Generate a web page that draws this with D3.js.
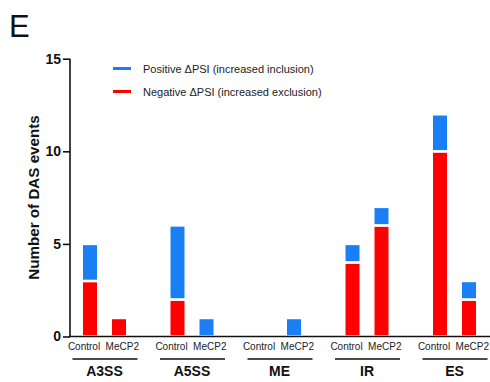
<!DOCTYPE html>
<html>
<head>
<meta charset="utf-8">
<script src="https://cdn.jsdelivr.net/npm/d3@7"></script>
<style>
  html, body { margin: 0; padding: 0; background: #fff; }
  svg { display: block; font-family: "Liberation Sans", Arial, sans-serif; }
</style>
</head>
<body>
<svg id="chart" width="490" height="382"></svg>
<script>
const groups = ["A3SS", "A5SS", "ME", "IR", "ES"];
const conditions = ["Control", "MeCP2"];
// Negative ΔPSI (red, bottom) and Positive ΔPSI (blue, stacked on top)
const negative = [[3, 1], [2, 0], [0, 0], [4, 6], [10, 2]];
const positive = [[2, 0], [4, 1], [0, 1], [1, 1], [2, 1]];
const yTicks = [0, 5, 10, 15];
const legendLabels = ["Positive \u0394PSI (increased inclusion)", "Negative \u0394PSI (increased exclusion)"];
const colors = { pos: "#1a7ff5", neg: "#fe0000" };

const svg = d3.select("#chart");

const y = d3.scaleLinear().domain([0, 15]).range([336.5, 58.7]);
const x0 = d3.scaleBand().domain(groups).range([60.75, 498.25]).padding(0);
const x1 = d3.scaleBand().domain(conditions).range([22.25, 65.25]).paddingInner(15 / 29).paddingOuter(0);

// Panel letter
svg.append("text").attr("x", 9).attr("y", 37).attr("font-size", 31).attr("fill", "#111").text("E");

// Bars
const data = [];
groups.forEach((g, i) => conditions.forEach((c, j) => {
  data.push({ g, c, neg: negative[i][j], pos: positive[i][j] });
}));

const barG = svg.append("g");
const bw = x1.bandwidth();
data.forEach(d => {
  const bx = x0(d.g) + x1(d.c) - 1.25;
  if (d.neg > 0) {
    barG.append("rect")
      .attr("x", bx).attr("width", bw + 2.5)
      .attr("y", y(d.neg)).attr("height", y(0) - y(d.neg))
      .attr("fill", colors.neg).attr("stroke", "#fff").attr("stroke-width", 2.5);
  }
  if (d.pos > 0) {
    barG.append("rect")
      .attr("x", bx).attr("width", bw + 2.5)
      .attr("y", y(d.neg + d.pos)).attr("height", y(d.neg) - y(d.neg + d.pos))
      .attr("fill", colors.pos).attr("stroke", "#fff").attr("stroke-width", 2.5);
  }
});

// Y axis
const yAxis = d3.axisLeft(y).tickValues(yTicks).tickSize(7).tickPadding(2);
const yg = svg.append("g").attr("transform", "translate(70,0)").call(yAxis);
yg.select(".domain").attr("stroke", "#111").attr("stroke-width", 1.6).attr("d", `M0,${y(15)}V${y(0)}`);
yg.selectAll(".tick line").attr("stroke", "#111").attr("stroke-width", 1.6);
yg.selectAll(".tick text").attr("font-size", 14).attr("font-weight", "bold").attr("fill", "#111")
  .attr("font-family", "Liberation Sans, Arial, sans-serif");

// X axis baseline
svg.append("line").attr("x1", 69.2).attr("x2", 490).attr("y1", y(0)).attr("y2", y(0))
  .attr("stroke", "#111").attr("stroke-width", 1.6);

// Y label
svg.append("text")
  .attr("transform", `translate(39,197.5) rotate(-90)`)
  .attr("text-anchor", "middle").attr("font-size", 15.2).attr("font-weight", "bold").attr("fill", "#111")
  .text("Number of DAS events");

// Condition labels, underline, group labels
const labelOffset = { Control: -20.5, MeCP2: 17.8 };
groups.forEach(g => {
  const cx = x0(g) + x0.bandwidth() / 2;
  conditions.forEach(c => {
    svg.append("text").attr("x", cx + labelOffset[c]).attr("y", 349.5)
      .attr("text-anchor", "middle").attr("font-size", 10).attr("fill", "#222").text(c);
  });
  svg.append("line").attr("x1", cx - 32).attr("x2", cx + 33).attr("y1", 359).attr("y2", 359)
    .attr("stroke", "#111").attr("stroke-width", 1.6);
  svg.append("text").attr("x", cx).attr("y", 375.5).attr("text-anchor", "middle")
    .attr("font-size", 14).attr("font-weight", "bold").attr("fill", "#111").text(g);
});

// Legend
const legendColors = [colors.pos, colors.neg];
legendLabels.forEach((t, i) => {
  const ly = 68.5 + i * 23;
  svg.append("line").attr("x1", 113).attr("x2", 131).attr("y1", ly).attr("y2", ly)
    .attr("stroke", legendColors[i]).attr("stroke-width", 3);
  svg.append("text").attr("x", 143).attr("y", ly + 4).attr("font-size", 11).attr("fill", "#222").text(t);
});
</script>
</body>
</html>
